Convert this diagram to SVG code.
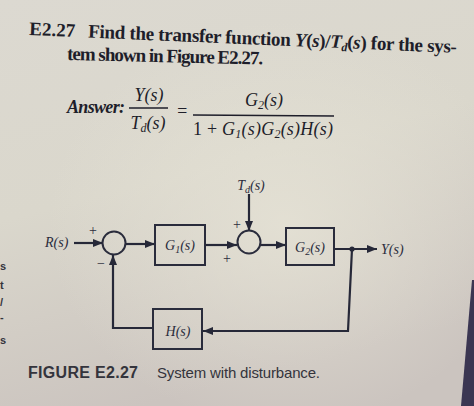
<svg xmlns="http://www.w3.org/2000/svg" width="474" height="406" viewBox="0 0 474 406">
<defs>
<linearGradient id="paper" x1="0" y1="0" x2="0.3" y2="1">
<stop offset="0" stop-color="#dcd9d1"/>
<stop offset="0.5" stop-color="#dad7cc"/>
<stop offset="1" stop-color="#cbc4bf"/>
</linearGradient>
<radialGradient id="glow" cx="0.6" cy="0.55" r="0.5">
<stop offset="0" stop-color="#e6e3d6" stop-opacity="0.8"/>
<stop offset="1" stop-color="#e6e3d6" stop-opacity="0"/>
</radialGradient>
<marker id="arr" viewBox="0 0 10 10" refX="10" refY="5" markerWidth="10" markerHeight="10" markerUnits="userSpaceOnUse" orient="auto">
<path d="M0,1 L10,5 L0,9 Z" fill="#262838"/>
</marker>
<style>
.ln{fill:none;stroke:#262838;stroke-width:2.2}
.bx{fill:none;stroke:#2a2c3c;stroke-width:2}
.dg{font-family:"Liberation Serif",serif;font-style:italic;font-size:14px;fill:#2a2c3c}
.sg{font-family:"Liberation Serif",serif;font-size:14px;fill:#2a2c3c}
.tt{font-family:"Liberation Serif",serif;font-weight:bold;font-size:19px;fill:#1e1e2a}
.mt{font-family:"Liberation Serif",serif;font-style:italic;font-size:18px;fill:#1e1e2a}
.cap{font-family:"Liberation Sans",Arial,sans-serif;fill:#34343c}
</style>
</defs>
<rect width="474" height="406" fill="url(#paper)"/>
<rect width="474" height="406" fill="url(#glow)"/>
<polygon points="472,280 474,280 474,406 461,406" fill="#3b3652"/>
<g class="cap" font-size="11" font-weight="bold" fill="#4a4850">
<text x="0" y="270">s</text>
<text x="0" y="289">t</text>
<text x="0" y="306">/</text>
<text x="0" y="321">-</text>
<text x="0" y="344">s</text>
</g>

<g id="title">
<text class="tt" x="29" y="35" transform="rotate(2.4 29 35)"><tspan>E2.27</tspan><tspan x="88" textLength="369">Find the transfer function <tspan font-style="italic">Y</tspan>(<tspan font-style="italic">s</tspan>)/<tspan font-style="italic">T</tspan><tspan font-size="12" dy="3" font-style="italic">d</tspan><tspan dy="-3">(</tspan><tspan font-style="italic">s</tspan>) for the sys-</tspan></text>
<text class="tt" x="67" y="60" transform="rotate(1.3 67 60)" textLength="196">tem shown in Figure E2.27.</text>
</g>

<g id="answer">
<text class="mt" x="67" y="113" font-weight="bold" textLength="58">Answer:</text>
<text class="mt" x="149" y="101" text-anchor="middle">Y(s)</text>
<line x1="129" y1="108" x2="168" y2="108" stroke="#1e1e2a" stroke-width="1.4"/>
<text class="mt" x="148" y="129" text-anchor="middle">T<tspan font-size="12" dy="3">d</tspan><tspan dy="-3">(s)</tspan></text>
<text class="mt" x="182" y="117" text-anchor="middle" font-style="normal">=</text>
<text class="mt" x="264" y="106" text-anchor="middle">G<tspan font-size="12" dy="3">2</tspan><tspan dy="-3">(s)</tspan></text>
<line x1="193" y1="115" x2="334" y2="116" stroke="#1e1e2a" stroke-width="1.4"/>
<text class="mt" x="193" y="135" textLength="140"><tspan font-style="normal">1 + </tspan>G<tspan font-size="12" dy="3">1</tspan><tspan dy="-3">(s)G</tspan><tspan font-size="12" dy="3">2</tspan><tspan dy="-3">(s)H(s)</tspan></text>
</g>

<g id="connectors">
<line class="ln" x1="74" y1="243" x2="103" y2="243" marker-end="url(#arr)"/>
<line class="ln" x1="125" y1="244" x2="155" y2="244" marker-end="url(#arr)"/>
<line class="ln" x1="205" y1="245" x2="237" y2="245" marker-end="url(#arr)"/>
<line class="ln" x1="249" y1="194" x2="249" y2="231" marker-end="url(#arr)"/>
<line class="ln" x1="260" y1="245" x2="286" y2="245" marker-end="url(#arr)"/>
<line class="ln" x1="334" y1="249" x2="377" y2="249" marker-end="url(#arr)"/>
<path class="ln" d="M352,249 L348,331 L203,331" marker-end="url(#arr)"/>
<path class="ln" d="M153,328 L113,328 L113,255" marker-end="url(#arr)"/>
<circle cx="352" cy="249" r="2.6" fill="#262838"/>
</g>

<g id="R"><text class="dg" x="45" y="247">R(s)</text></g>
<g id="sum1">
<circle class="bx" cx="114" cy="243" r="11.5"/>
<text class="sg" x="93" y="235" text-anchor="middle">+</text>
<text class="sg" x="101" y="268" text-anchor="middle">−</text>
</g>
<g id="G1">
<rect class="bx" x="155" y="225" width="50" height="40"/>
<text class="dg" x="180" y="250" text-anchor="middle">G<tspan font-size="10" dy="3">1</tspan><tspan dy="-3">(s)</tspan></text>
</g>
<g id="Td"><text class="dg" x="251" y="190" text-anchor="middle">T<tspan font-size="10" dy="3">d</tspan><tspan dy="-3">(s)</tspan></text></g>
<g id="sum2">
<circle class="bx" cx="249" cy="242" r="11.5"/>
<text class="sg" x="237" y="229" text-anchor="middle">+</text>
<text class="sg" x="227" y="263" text-anchor="middle">+</text>
</g>
<g id="G2">
<rect class="bx" x="286" y="228" width="48" height="37"/>
<text class="dg" x="310" y="252" text-anchor="middle">G<tspan font-size="10" dy="3">2</tspan><tspan dy="-3">(s)</tspan></text>
</g>
<g id="Y"><text class="dg" x="381" y="254">Y(s)</text></g>
<g id="H">
<rect class="bx" x="153" y="309" width="49" height="40"/>
<text class="dg" x="178" y="336" text-anchor="middle">H(s)</text>
</g>

<g id="caption">
<text class="cap" x="28" y="378" font-size="16" font-weight="bold" textLength="110">FIGURE E2.27</text>
<text class="cap" x="157" y="378" font-size="15" fill="#44444c" textLength="163">System with disturbance.</text>
</g>
</svg>
